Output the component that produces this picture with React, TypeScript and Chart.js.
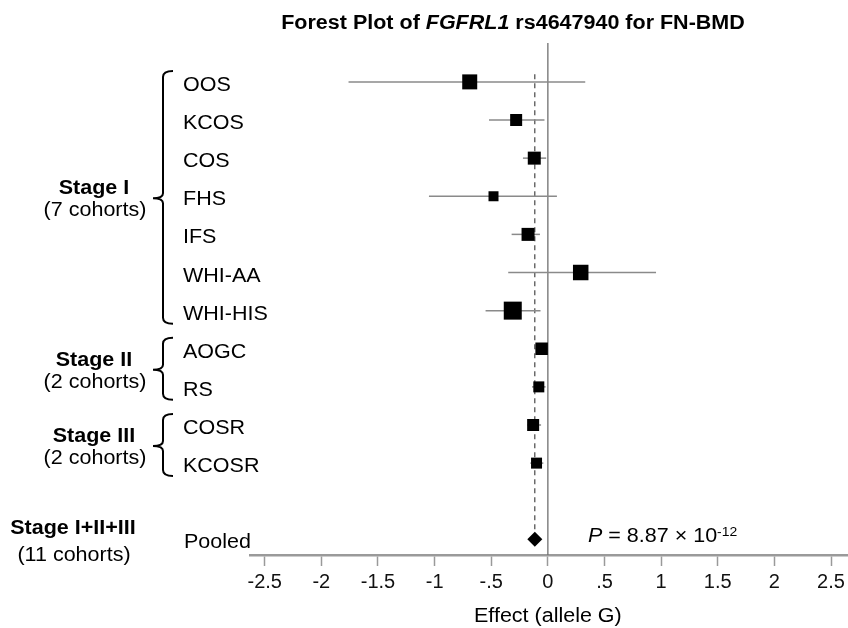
import React, { useEffect, useRef } from "react";
import { Chart, registerables } from "chart.js";

Chart.register(...registerables);

// ---------- data ----------
const studies = ["OOS", "KCOS", "COS", "FHS", "IFS", "WHI-AA", "WHI-HIS", "AOGC", "RS", "COSR", "KCOSR"];
const effects = [-0.69, -0.28, -0.12, -0.48, -0.175, 0.29, -0.31, -0.055, -0.08, -0.13, -0.1];
const lowerCI = [-1.76, -0.52, -0.22, -1.05, -0.32, -0.35, -0.55, -0.11, -0.14, -0.18, -0.155];
const upperCI = [0.33, -0.03, -0.015, 0.08, -0.07, 0.955, -0.065, 0.0, -0.02, -0.06, -0.04];
const weights = [15, 12, 13, 10, 13, 15.5, 18, 12.5, 11, 12, 11];

const stageNames = ["Stage I", "Stage II", "Stage III"];
const stageCohorts = ["(7 cohorts)", "(2 cohorts)", "(2 cohorts)"];
const stageFirstRow = [0, 7, 9];
const stageLastRow = [6, 8, 10];

const pooledName = "Stage I+II+III";
const pooledCohorts = "(11 cohorts)";
const pooledLabel = "Pooled";
const pooledEffect = -0.115;
const pooledRow = 12;
const pMantissa = "8.87";
const pExponent = "-12";

const xTickValues = [-2.5, -2, -1.5, -1, -0.5, 0, 0.5, 1, 1.5, 2, 2.5];
const xTickLabels = ["-2.5", "-2", "-1.5", "-1", "-.5", "0", ".5", "1", "1.5", "2", "2.5"];
const xTitle = "Effect (allele G)";

const FONT = '"Liberation Sans", Arial, Helvetica, sans-serif';
const SX = 1.075;

type Run = { text: string; font: string; dy?: number };

function drawRuns(ctx: CanvasRenderingContext2D, runs: Run[], x: number, baseline: number, align: "left" | "center") {
  ctx.save();
  const widths = runs.map((r) => {
    ctx.font = r.font;
    return ctx.measureText(r.text).width;
  });
  const total = widths.reduce((a, b) => a + b, 0) * SX;
  const start = align === "center" ? x - total / 2 : x;
  ctx.translate(start, baseline);
  ctx.scale(SX, 1);
  ctx.textAlign = "left";
  ctx.textBaseline = "alphabetic";
  ctx.fillStyle = "#000";
  let cx = 0;
  runs.forEach((r, i) => {
    ctx.font = r.font;
    ctx.fillText(r.text, cx, r.dy || 0);
    cx += widths[i];
  });
  ctx.restore();
}

const textPlugin = {
  id: "forestText",
  afterDraw(chart: any) {
    const ctx: CanvasRenderingContext2D = chart.ctx;
    const xs = chart.scales.x;
    const ys = chart.scales.y;
    const reg = `20px ${FONT}`;
    const bold = `bold 20px ${FONT}`;

    // title
    drawRuns(
      ctx,
      [
        { text: "Forest Plot of ", font: bold },
        { text: "FGFRL1", font: `italic bold 20px ${FONT}` },
        { text: " rs4647940 for FN-BMD", font: bold },
      ],
      513,
      29,
      "center"
    );

    // study labels
    studies.forEach((s, i) => {
      drawRuns(ctx, [{ text: s, font: reg }], 183, ys.getPixelForValue(i) + 9, "left");
    });
    drawRuns(ctx, [{ text: pooledLabel, font: reg }], 184, ys.getPixelForValue(pooledRow) + 9, "left");

    // stage brackets and labels
    ctx.save();
    ctx.strokeStyle = "#000";
    ctx.lineWidth = 2;
    stageNames.forEach((name, g) => {
      const y0 = ys.getPixelForValue(stageFirstRow[g]);
      const y1 = ys.getPixelForValue(stageLastRow[g]);
      const top = y0 - 11;
      const bottom = y1 + 13;
      const mid = (y0 + y1) / 2 + 2;
      const bx = 163;
      ctx.beginPath();
      ctx.moveTo(bx + 10, top);
      ctx.quadraticCurveTo(bx, top, bx, top + 6);
      ctx.lineTo(bx, mid - 5);
      ctx.quadraticCurveTo(bx, mid, bx - 10, mid);
      ctx.quadraticCurveTo(bx, mid, bx, mid + 5);
      ctx.lineTo(bx, bottom - 6);
      ctx.quadraticCurveTo(bx, bottom, bx + 10, bottom);
      ctx.stroke();
      drawRuns(ctx, [{ text: name, font: bold }], 94, mid - 11 + 7, "center");
      drawRuns(ctx, [{ text: stageCohorts[g], font: reg }], 95, mid + 11 + 7, "center");
    });
    ctx.restore();

    const py = ys.getPixelForValue(pooledRow);
    drawRuns(ctx, [{ text: pooledName, font: bold }], 73, py - 12 + 7, "center");
    drawRuns(ctx, [{ text: pooledCohorts, font: reg }], 74, py + 15 + 7, "center");

    // P value
    drawRuns(
      ctx,
      [
        { text: "P", font: `italic 20px ${FONT}` },
        { text: ` = ${pMantissa} \u00D7 10`, font: reg },
        { text: pExponent, font: `13px ${FONT}`, dy: -6 },
      ],
      588,
      py + 3,
      "left"
    );

    // x axis title
    drawRuns(ctx, [{ text: xTitle, font: reg }], xs.getPixelForValue(0), 622, "center");
  },
};

export default function App() {
  const canvasRef = useRef<HTMLCanvasElement | null>(null);

  useEffect(() => {
    document.body.style.margin = "0";
    const canvas = canvasRef.current;
    if (!canvas) return;

    const datasets: any[] = [];

    // study squares
    datasets.push({
      label: "studies",
      data: effects.map((e, i) => ({ x: e, y: i })),
      pointStyle: "rect",
      pointRadius: weights.map((w) => w * Math.SQRT1_2),
      pointBackgroundColor: "#000",
      pointBorderColor: "#000",
      pointBorderWidth: 0,
      showLine: false,
      order: 0,
    });

    // pooled diamond
    datasets.push({
      label: "pooled",
      data: [{ x: pooledEffect, y: pooledRow }],
      pointStyle: "rectRot",
      pointRadius: 7.5,
      pointBackgroundColor: "#000",
      pointBorderColor: "#000",
      pointBorderWidth: 0,
      showLine: false,
      order: 0,
    });

    // confidence intervals
    studies.forEach((s, i) => {
      datasets.push({
        label: s + " CI",
        data: [
          { x: lowerCI[i], y: i },
          { x: upperCI[i], y: i },
        ],
        showLine: true,
        borderColor: "#8a8a8a",
        borderWidth: 1.5,
        pointRadius: 0,
        order: 2,
      });
    });

    // zero line
    datasets.push({
      label: "zero",
      data: [
        { x: 0, y: -1.02 },
        { x: 0, y: 12.41 },
      ],
      showLine: true,
      borderColor: "#707070",
      borderWidth: 1.3,
      pointRadius: 0,
      order: 3,
    });

    // pooled dashed line
    datasets.push({
      label: "pooled line",
      data: [
        { x: pooledEffect, y: -0.2 },
        { x: pooledEffect, y: 11.8 },
      ],
      showLine: true,
      borderColor: "#222",
      borderWidth: 1,
      borderDash: [5, 4],
      pointRadius: 0,
      order: 3,
    });

    const chart = new Chart(canvas, {
      type: "scatter",
      data: { datasets },
      options: {
        animation: false,
        responsive: false,
        devicePixelRatio: 1,
        events: [],
        layout: { autoPadding: false, padding: { left: 250, right: 0, top: 43, bottom: 0 } },
        plugins: {
          legend: { display: false },
          tooltip: { enabled: false },
          title: { display: false },
        },
        scales: {
          x: {
            type: "linear",
            position: "bottom",
            min: -2.63,
            max: 2.65,
            afterBuildTicks: (axis: any) => {
              axis.ticks = xTickValues.map((v) => ({ value: v }));
            },
            afterFit: (axis: any) => {
              axis.height = 73;
              axis.paddingLeft = 0;
              axis.paddingRight = 0;
            },
            border: { display: true, color: "#9a9a9a", width: 2.5 },
            grid: {
              display: true,
              drawOnChartArea: false,
              drawTicks: true,
              tickLength: 11,
              tickColor: "#9a9a9a",
              tickWidth: 1.5,
            },
            ticks: {
              autoSkip: false,
              maxRotation: 0,
              minRotation: 0,
              padding: 4,
              color: "#111",
              font: { family: FONT, size: 20 },
              callback: (_v: any, index: number) => xTickLabels[index],
            },
          },
          y: {
            type: "linear",
            display: false,
            reverse: true,
            min: -1.02,
            max: 12.41,
          },
        },
      },
      plugins: [textPlugin],
    } as any);

    return () => chart.destroy();
  }, []);

  return (
    <div style={{ width: 848, height: 628, background: "#fff" }}>
      <canvas ref={canvasRef} width={848} height={628} style={{ display: "block", width: 848, height: 628, background: "#fff" }} />
    </div>
  );
}
